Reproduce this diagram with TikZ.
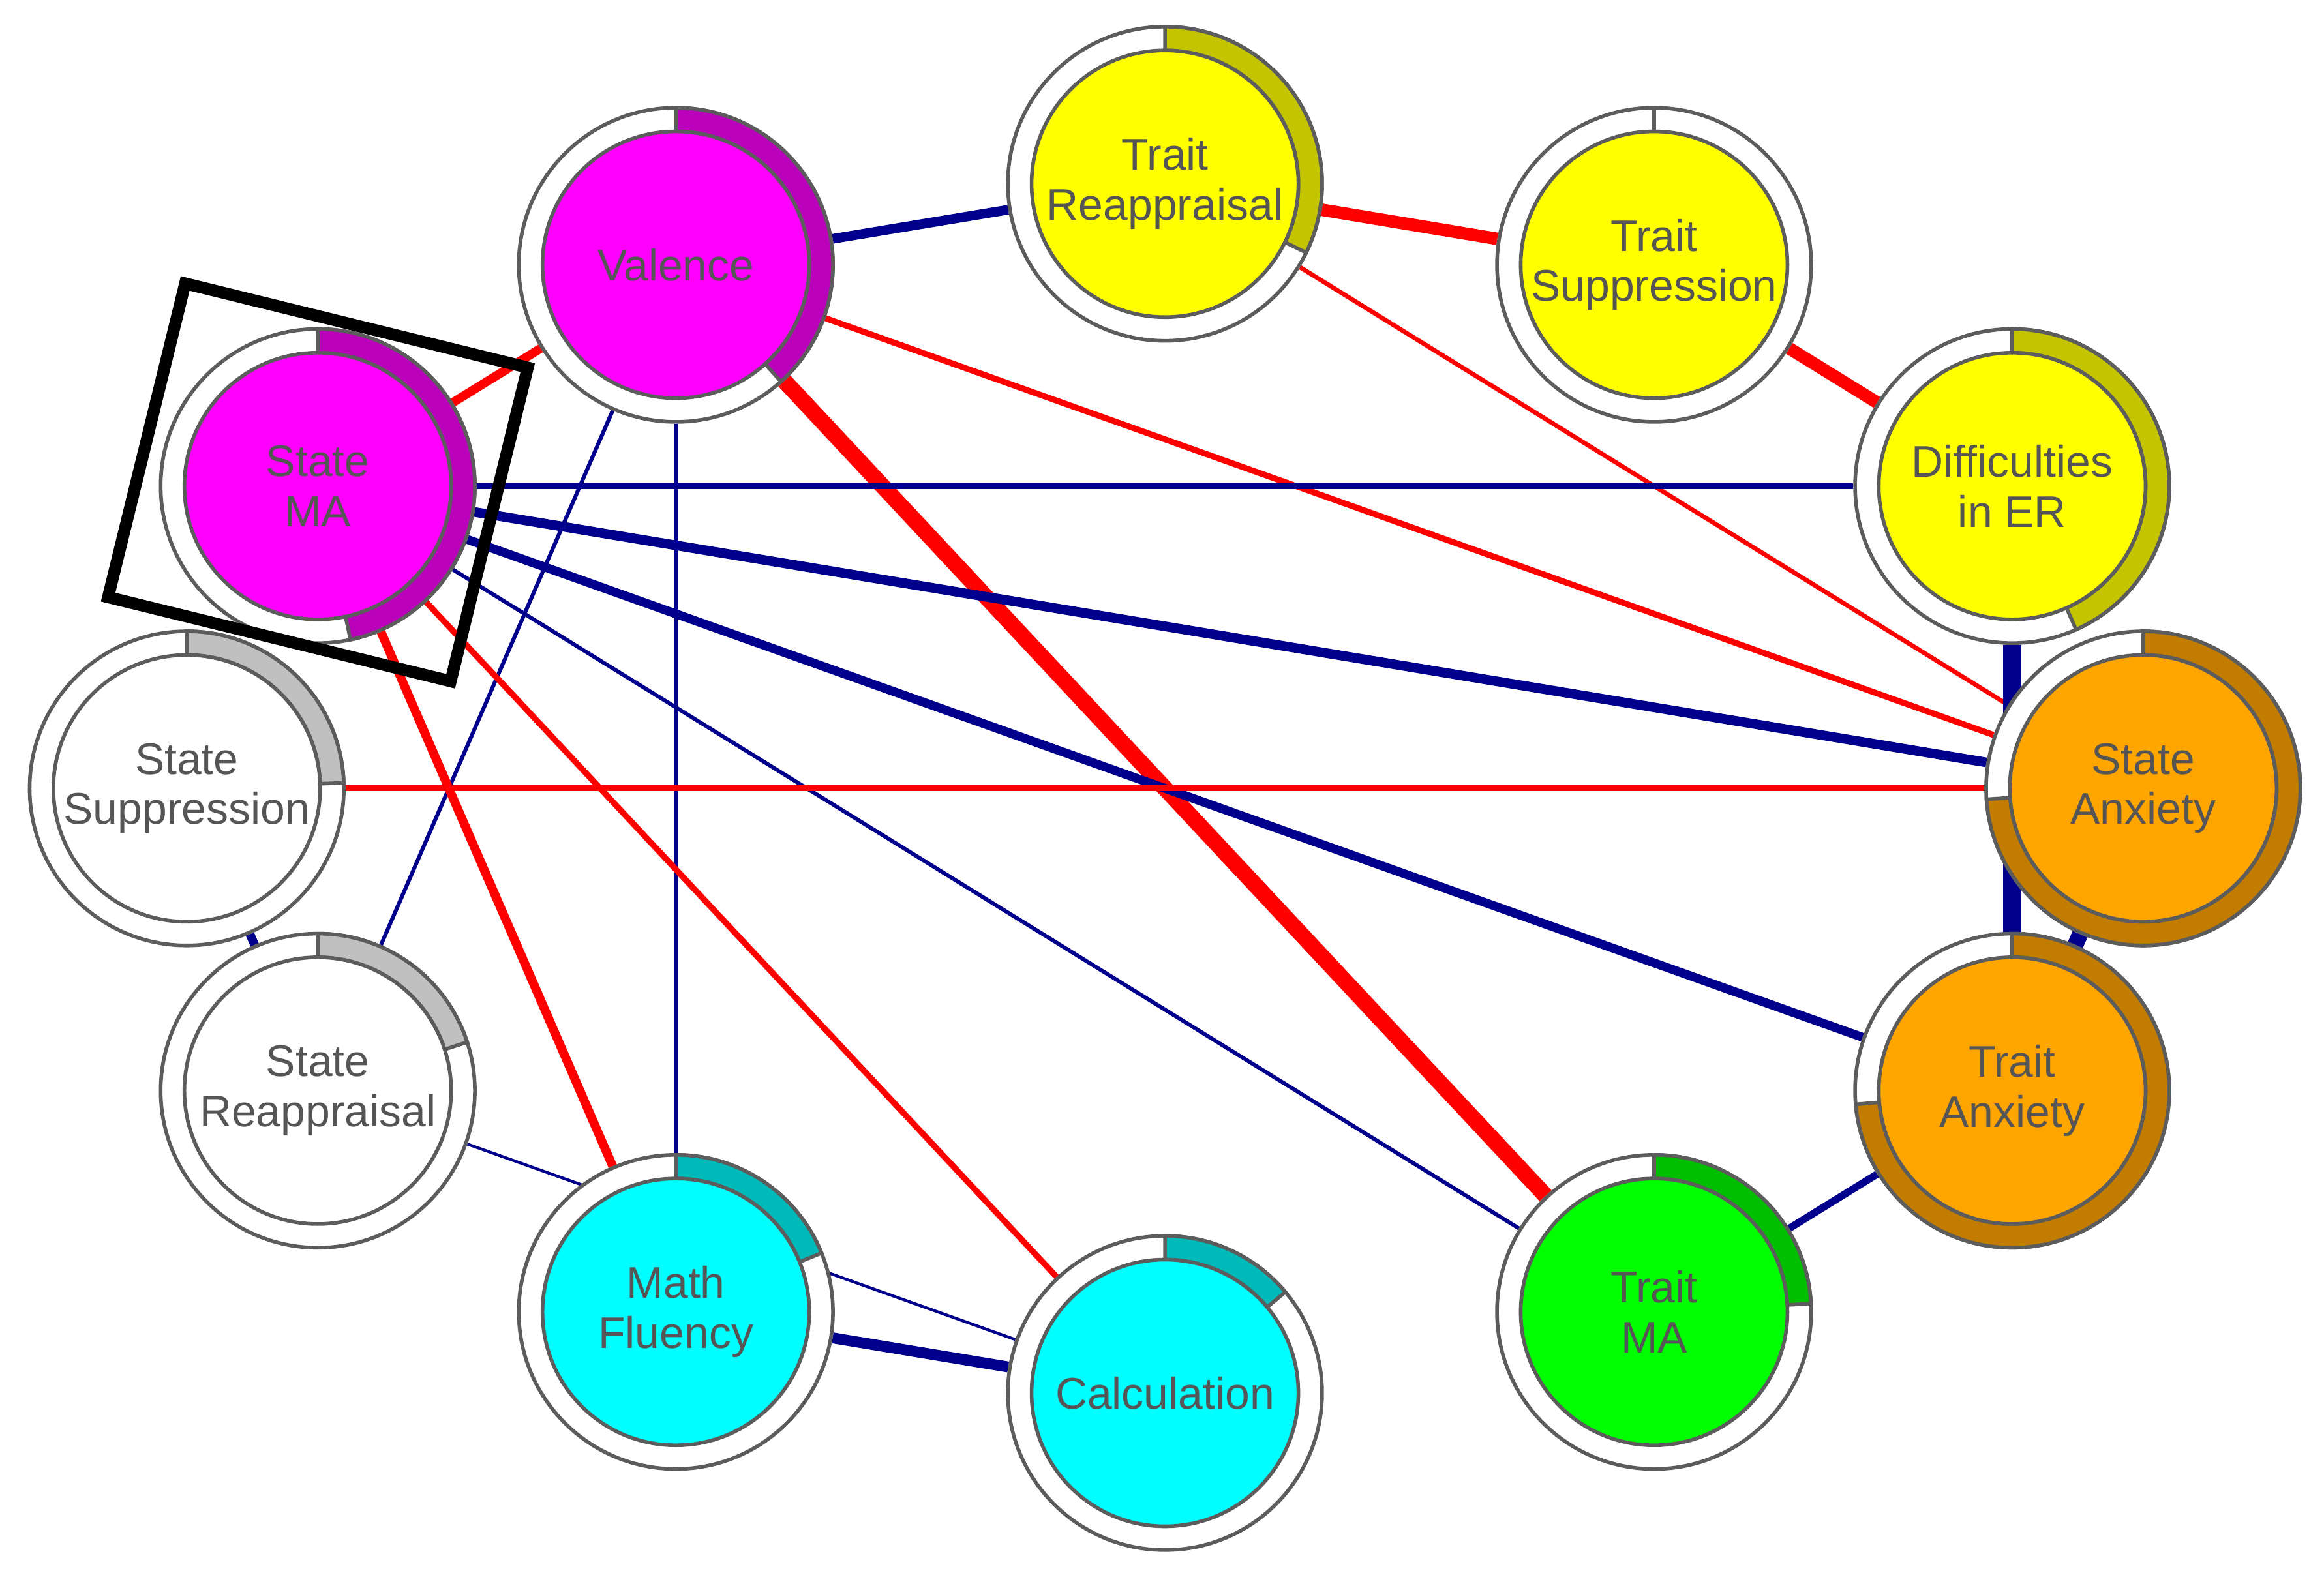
\documentclass[tikz,border=0pt]{standalone}
\usepackage{fontspec}
\setmainfont{Liberation Sans}
\usepackage{tikz}
\usetikzlibrary{shapes, backgrounds}
\definecolor{ringgray}{HTML}{5C5C5C}
\definecolor{labelgray}{HTML}{555555}
\definecolor{posblue}{HTML}{00008C}
\definecolor{negred}{HTML}{FF0000}
\definecolor{magentafill}{HTML}{FF00FF}
\definecolor{magentaarc}{HTML}{BB00BB}
\definecolor{yellowfill}{HTML}{FFFF00}
\definecolor{yellowarc}{HTML}{C4C400}
\definecolor{orangefill}{HTML}{FFA500}
\definecolor{orangearc}{HTML}{C27C00}
\definecolor{greenfill}{HTML}{00FF00}
\definecolor{greenarc}{HTML}{00BE00}
\definecolor{cyanfill}{HTML}{00FFFF}
\definecolor{cyanarc}{HTML}{00BABA}
\definecolor{grayarc}{HTML}{C0C0C0}
\tikzstyle{ring} = [circle, draw = ringgray, fill = white, line width = 0.7pt, minimum size = 2.12cm, inner sep = 0pt]
\tikzstyle{core} = [circle, draw = ringgray, line width = 0.7pt, minimum size = 1.8cm, inner sep = 0pt, align = center, text = labelgray, font = {\fontsize{8.5}{9.6}\selectfont}]
\tikzstyle{posedge} = [draw, posblue]
\tikzstyle{negedge} = [draw, negred]
\tikzstyle{focus} = [rectangle, draw, line width = 2.3pt, minimum width = 2.38cm, minimum height = 2.18cm, inner sep = 0pt, rotate = -13.8]
% share of a node: filled arc from the top, clockwise to #3
\newcommand{\share}[3]{%
	\filldraw [fill = #2, draw = ringgray, line width = 0.7pt] ([shift = {(90:1.06)}]#1.center) arc [start angle = 90, end angle = #3, radius = 1.06cm] -- ([shift = {(#3:0.9)}]#1.center) arc [start angle = #3, end angle = 90, radius = 0.9cm] -- cycle;
}

\begin{document}
\begin{tikzpicture}[auto]
			\useasboundingbox (0, 0) rectangle (15.68, -10.60);
			% Place nodes
			\node [ring] (traitreapp) at (7.86, -1.24) {};
			\share{traitreapp}{yellowarc}{-26}
			\node [core, fill = yellowfill] (traitreappin) at (traitreapp) {Trait\\Reappraisal};
			
			\node [ring] (traitsupp) at (11.16, -1.787) {};
			\share{traitsupp}{white}{90}
			\node [core, fill = yellowfill] (traitsuppin) at (traitsupp) {Trait\\Suppression};
			
			\node [ring] (differ) at (13.576, -3.28) {};
			\share{differ}{yellowarc}{-66}
			\node [core, fill = yellowfill] (differin) at (differ) {Difficulties\\in ER};
			
			\node [ring] (stateanx) at (14.46, -5.32) {};
			\share{stateanx}{orangearc}{-176}
			\node [core, fill = orangefill] (stateanxin) at (stateanx) {State\\Anxiety};
			
			\node [ring] (traitanx) at (13.576, -7.36) {};
			\share{traitanx}{orangearc}{-175}
			\node [core, fill = orangefill] (traitanxin) at (traitanx) {Trait\\Anxiety};
			
			\node [ring] (traitma) at (11.16, -8.853) {};
			\share{traitma}{greenarc}{3}
			\node [core, fill = greenfill] (traitmain) at (traitma) {Trait\\MA};
			
			\node [ring] (calc) at (7.86, -9.40) {};
			\share{calc}{cyanarc}{40}
			\node [core, fill = cyanfill] (calcin) at (calc) {Calculation};
			
			\node [ring] (mathflu) at (4.56, -8.853) {};
			\share{mathflu}{cyanarc}{22}
			\node [core, fill = cyanfill] (mathfluin) at (mathflu) {Math\\Fluency};
			
			\node [ring] (statereapp) at (2.144, -7.36) {};
			\share{statereapp}{grayarc}{18}
			\node [core, fill = white] (statereappin) at (statereapp) {State\\Reappraisal};
			
			\node [ring] (statesupp) at (1.26, -5.32) {};
			\share{statesupp}{grayarc}{2}
			\node [core, fill = white] (statesuppin) at (statesupp) {State\\Suppression};
			
			\node [ring] (statema) at (2.144, -3.28) {};
			\share{statema}{magentaarc}{-78}
			\node [core, fill = magentafill] (statemain) at (statema) {State\\MA};
			
			\node [ring] (valence) at (4.56, -1.787) {};
			\share{valence}{magentaarc}{-48}
			\node [core, fill = magentafill] (valencein) at (valence) {Valence};
			
			\node [focus] (frame) at (2.145, -3.255) {};
			
			% Draw edges
			\begin{pgfonlayer}{background}
			\path [posedge, line width = 1.85pt] (valence) -- (traitreapp);
			\path [negedge, line width = 1.7pt] (valence) -- (statema);
			\path [negedge, line width = 1.15pt] (valence) -- (stateanx);
			\path [negedge, line width = 3.1pt] (valence) -- (traitma);
			\path [posedge, line width = 0.65pt] (valence) -- (mathflu);
			\path [posedge, line width = 0.75pt] (valence) -- (statereapp);
			\path [negedge, line width = 2.4pt] (traitreapp) -- (traitsupp);
			\path [negedge, line width = 0.85pt] (traitreapp) -- (stateanx);
			\path [negedge, line width = 2.4pt] (traitsupp) -- (differ);
			\path [posedge, line width = 1.15pt] (differ) -- (statema);
			\path [posedge, line width = 3.4pt] (differ) -- (traitanx);
			\path [posedge, line width = 1.85pt] (statema) -- (stateanx);
			\path [posedge, line width = 1.7pt] (statema) -- (traitanx);
			\path [posedge, line width = 0.75pt] (statema) -- (traitma);
			\path [negedge, line width = 1.15pt] (statema) -- (calc);
			\path [negedge, line width = 1.7pt] (statema) -- (mathflu);
			\path [negedge, line width = 1.15pt] (statesupp) -- (stateanx);
			\path [posedge, line width = 1.7pt] (statesupp) -- (statereapp);
			\path [posedge, line width = 0.55pt] (statereapp) -- (calc);
			\path [posedge, line width = 2.1pt] (mathflu) -- (calc);
			\path [posedge, line width = 1.4pt] (traitma) -- (traitanx);
			\path [posedge, line width = 3.1pt] (stateanx) -- (traitanx);
			\end{pgfonlayer}
		\end{tikzpicture}
\end{document}
